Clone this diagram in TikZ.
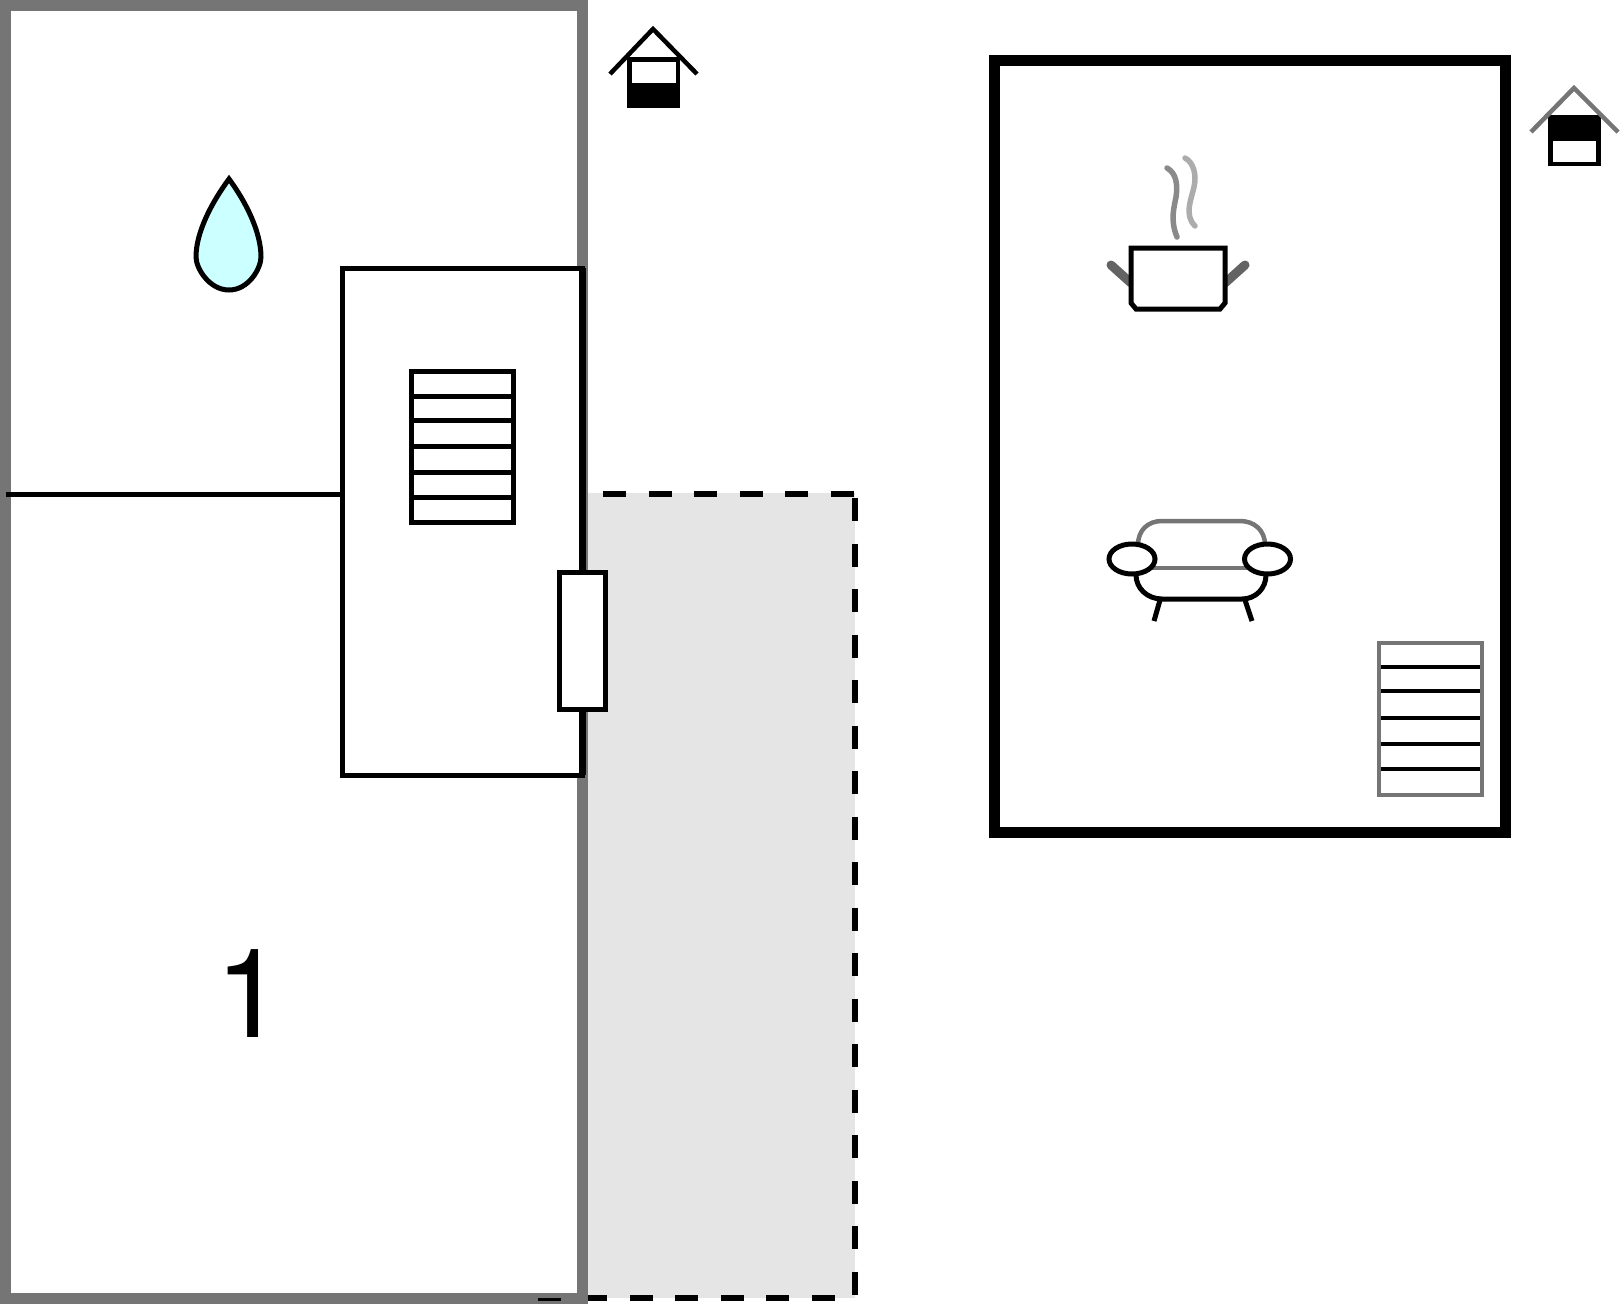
\documentclass[tikz,border=0pt]{standalone}
\usepackage{fontspec}
\setmainfont{TeX Gyre Heros}
\usepackage{tikz}

\definecolor{wallgrey}{HTML}{757575}
\definecolor{terrace}{HTML}{E5E5E5}
\definecolor{dropblue}{HTML}{CCFFFF}

\begin{document}
\begin{tikzpicture}[x=1pt,y=-1pt,line join=miter,
                    plan line/.style={draw=black,line width=5pt},
                    grey line/.style={draw=wallgrey,line width=4.5pt},
                    terrace edge/.style={draw=black,line width=6pt,dash pattern=on 23pt off 22.5pt},
                    house body/.style={fill=black,draw=none},
                    house pane/.style={fill=white,draw=none}]
  \useasboundingbox (0,0) rectangle (1620,1304);

  % ground floor
  \fill[terrace] (588,493) rectangle (854.5,1297.5);
  \draw[terrace edge] (603,494) -- (854.5,494);
  \draw[terrace edge] (854.5,498) -- (854.5,1296);
  \draw[terrace edge] (834.5,1298) -- (583,1298);
  \draw[wallgrey,line width=11pt] (5.5,5.5) rectangle (582.5,1298.5);
  \draw[black,line width=3pt] (538,1299.5) -- (561,1299.5);
  \draw[plan line] (6,494) -- (342,494);
  \draw[plan line,fill=white] (342,268) rectangle (582,775);
  \draw[black,line width=7pt] (582,268) -- (582,775);
  \draw[plan line,fill=white] (559,572) rectangle (605.5,709.5);
  \draw[plan line,fill=white] (411,371) rectangle (513.5,522.5);
  \foreach \y in {396,420,446,472,497}
    \draw[plan line] (411,\y) -- (513.5,\y);
  \draw[plan line,fill=dropblue] (229,179) .. controls (212,202) and (196,232) .. (196,257)
    .. controls (196,268) and (209,290) .. (229,290)
    .. controls (249,290) and (261,268) .. (261,257)
    .. controls (261,232) and (246,202) .. (229,179) -- cycle;
  \node[inner sep=0pt,font=\fontsize{124}{124}\selectfont] (one) at (250,994) {1};

  % house symbol, left
  \fill[house body] (627,57) rectangle (680,108);
  \fill[house pane] (632,62) rectangle (676,83);
  \draw[plan line,line width=4.5pt] (610,74) -- (653,29) -- (697,74);

  % upper floor
  \draw[black,line width=11pt] (994,60.5) rectangle (1505.5,832);
  \draw[grey line,fill=white] (1379,643) rectangle (1482,795);
  \foreach \y in {667,691,718,744,769}
    \draw[plan line,line width=4pt] (1381,\y) -- (1480,\y);

  % pot
  \draw[wallgrey!85!black,line width=9pt,line cap=round] (1111,265) -- (1131,283);
  \draw[wallgrey!85!black,line width=9pt,line cap=round] (1245,265) -- (1225,283);
  \draw[plan line,fill=white] (1131,248) -- (1225,248) -- (1225,303) -- (1220,309) -- (1136,309) -- (1131,303) -- cycle;
  \draw[wallgrey!85,line width=5.5pt,line cap=round] (1167,168) .. controls (1176,173) and (1178,184) .. (1176,197) .. controls (1174,208) and (1170,220) .. (1177,237);
  \draw[wallgrey!60,line width=5.5pt,line cap=round] (1185,158) .. controls (1193,162) and (1197,174) .. (1194,187) .. controls (1191,200) and (1184,215) .. (1195,226);

  % sofa
  \draw[grey line] (1138,545) .. controls (1138,530) and (1148,521) .. (1162,521) -- (1240,521) .. controls (1254,521) and (1265,530) .. (1265,545);
  \draw[grey line] (1152,568) -- (1250,568);
  \draw[plan line] (1136,575) .. controls (1136,588) and (1147,599) .. (1162,599) -- (1242,599) .. controls (1256,599) and (1266,588) .. (1266,575);
  \draw[plan line] (1160,600) -- (1154,621);
  \draw[plan line] (1245,600) -- (1252,621);
  \draw[plan line,fill=white] (1132,559) ellipse [x radius=23,y radius=15];
  \draw[plan line,fill=white] (1267.5,559) ellipse [x radius=23,y radius=15];

  % house symbol, right
  \fill[house body] (1548,115) rectangle (1601,166);
  \fill[house pane] (1553,141) rectangle (1596,162);
  \draw[grey line] (1531,132) -- (1574,88) -- (1618,132);
\end{tikzpicture}
\end{document}
